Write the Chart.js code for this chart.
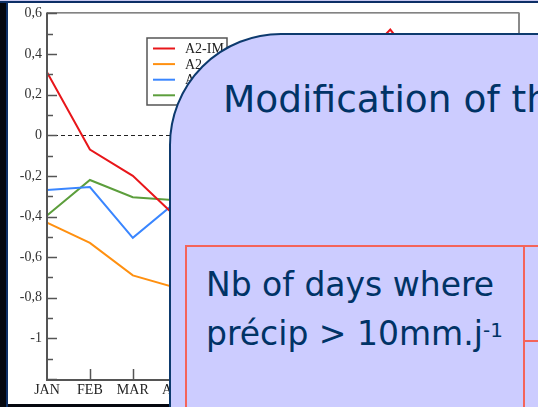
<!DOCTYPE html>
<html>
<head>
<meta charset="utf-8">
<script src="https://cdn.jsdelivr.net/npm/chart.js@4/dist/chart.umd.min.js"></script>
<style>
  html, body { margin: 0; padding: 0; }
  body { width: 538px; height: 407px; overflow: hidden; position: relative; background: #05070f; }
  #topband { position: absolute; left: 0; top: 0; width: 538px; height: 1px; background: #c8c8f0; }
  #topline { position: absolute; left: 0; top: 1px; width: 538px; height: 2px; background: #0d2f66; }
  #leftedge { position: absolute; left: 6px; top: 3px; width: 2px; height: 404px; background: #0d2f66; }
  #panel { position: absolute; left: 8px; top: 3px; width: 530px; height: 401px; background: #fff; }
  #chart { position: absolute; left: 0; top: 0; }
  #overlay {
    position: absolute; left: 169px; top: 33px; width: 420px; height: 420px;
    background: #ccccff; border: 2px solid #0d3a6e; border-top-left-radius: 112px;
  }
  .cell { position: absolute; border-color: #f4645a; border-style: solid; border-width: 0; }
  #cellA { left: 185px; top: 245px; width: 420px; height: 300px; border-top-width: 2px; border-left-width: 2px; }
  #cellB { left: 523px; top: 247px; width: 2px; height: 200px; background: #f4645a; }
  #cellC { left: 525px; top: 340px; width: 30px; height: 2px; background: #f4645a; }
  .slide { position: absolute; font-family: "DejaVu Sans", sans-serif; color: #003366; white-space: nowrap; }
  #title { left: 223px; top: 81px; font-size: 37.5px; line-height: 37px; }
  #body { left: 206px; top: 260px; font-size: 33px; line-height: 49px; }
  #body sup { font-size: 20px; vertical-align: 8px; line-height: 0; }
</style>
</head>
<body>
<div id="topband"></div>
<div id="topline"></div>
<div id="leftedge"></div>
<div id="panel"></div>
<canvas id="chart" width="538" height="407"></canvas>
<div id="overlay"></div>
<div class="cell" id="cellA"></div>
<div class="cell" id="cellB"></div>
<div class="cell" id="cellC"></div>
<div class="slide" id="title">Modification of the</div>
<div class="slide" id="body">Nb of days where<br>précip &gt; 10mm.j<sup>-1</sup></div>

<script>
// months on the x axis
const months = ['JAN', 'FEB', 'MAR', 'APR', 'MAY', 'JUN', 'JUL', 'AUG', 'SEP', 'OCT', 'NOV', 'DEC'];
const seriesNames = ['A2-IM', 'A2', 'A2-R', 'A2-IMR'];
// values (May..Dec mostly hidden, estimated)
const a2imValues = [0.31, -0.07, -0.2, -0.4, -0.15, 0.05, 0.2, 0.3, 0.52, 0.25, 0.1, 0.2];
const a2Values = [-0.43, -0.53, -0.69, -0.75, -0.6, -0.45, -0.35, -0.3, -0.2, -0.35, -0.4, -0.45];
const a2rValues = [-0.27, -0.255, -0.505, -0.33, -0.3, -0.2, -0.1, -0.15, -0.05, -0.2, -0.25, -0.3];
const a2imrValues = [-0.395, -0.22, -0.305, -0.32, -0.25, -0.15, -0.05, 0.0, 0.1, -0.1, -0.15, -0.2];
const yTickValues = [0.6, 0.4, 0.2, 0, -0.2, -0.4, -0.6, -0.8, -1];
const seriesColors = ['#e8161a', '#ff9010', '#3a86ff', '#5c9e3c'];

const serif = 'Liberation Serif';

// frame, inward ticks and dashed zero line like the xmgrace original
const framePlugin = {
  id: 'frame',
  beforeDatasetsDraw(chart) {
    const { ctx, chartArea: a, scales: { y } } = chart;
    const y0 = Math.round(y.getPixelForValue(0)) + 0.5;
    ctx.save();
    ctx.setLineDash([4, 3]);
    ctx.strokeStyle = '#222';
    ctx.lineWidth = 1;
    ctx.beginPath();
    ctx.moveTo(a.left, y0);
    ctx.lineTo(a.right, y0);
    ctx.stroke();
    ctx.restore();
  },
  afterDatasetsDraw(chart) {
    const { ctx, chartArea: a, scales: { x, y } } = chart;
    ctx.save();
    // top and right
    ctx.strokeStyle = '#333';
    ctx.lineWidth = 1;
    ctx.beginPath();
    ctx.moveTo(a.left, a.top - 0.5);
    ctx.lineTo(a.right, a.top - 0.5);
    ctx.stroke();
    ctx.strokeStyle = '#8a8a8a';
    ctx.lineWidth = 2;
    ctx.beginPath();
    ctx.moveTo(a.right, a.top - 1);
    ctx.lineTo(a.right, a.bottom);
    ctx.stroke();
    // left and bottom axes
    ctx.strokeStyle = '#555';
    ctx.lineWidth = 2;
    ctx.beginPath();
    ctx.moveTo(a.left, a.top - 1);
    ctx.lineTo(a.left, a.bottom + 1);
    ctx.lineTo(a.right, a.bottom + 1);
    ctx.stroke();
    // y ticks, major every 0.2, minor every 0.1
    ctx.lineWidth = 1.5;
    for (let i = 0; i <= 18; i++) {
      const v = -1.2 + i * 0.1;
      const py = Math.round(y.getPixelForValue(v)) + 0.5;
      const len = i % 2 === 0 ? 10 : 6;
      ctx.beginPath();
      ctx.moveTo(a.left, py);
      ctx.lineTo(a.left + len, py);
      ctx.stroke();
    }
    // x ticks
    for (let i = 1; i < months.length - 1; i++) {
      const px = Math.round(x.getPixelForValue(i)) + 0.5;
      ctx.beginPath();
      ctx.moveTo(px, a.bottom);
      ctx.lineTo(px, a.bottom - 10);
      ctx.stroke();
    }
    ctx.restore();
  }
};

// boxed legend inside the plot
const boxLegend = {
  id: 'boxLegend',
  afterDatasetsDraw(chart) {
    const { ctx } = chart;
    const bx = 147, by = 38, bw = 80, bh = 67;
    ctx.save();
    ctx.fillStyle = '#fff';
    ctx.fillRect(bx, by, bw, bh);
    ctx.strokeStyle = '#555';
    ctx.lineWidth = 1.5;
    ctx.strokeRect(bx, by, bw, bh);
    ctx.font = '14px "' + serif + '"';
    ctx.textBaseline = 'middle';
    chart.data.datasets.forEach((ds, i) => {
      const ly = by + 10.5 + i * 15.6;
      ctx.strokeStyle = ds.borderColor;
      ctx.lineWidth = 2;
      ctx.beginPath();
      ctx.moveTo(bx + 6, ly);
      ctx.lineTo(bx + 28, ly);
      ctx.stroke();
      ctx.fillStyle = '#222';
      ctx.fillText(ds.label, bx + 38, ly + 1);
    });
    ctx.restore();
  }
};

const allValues = [a2imValues, a2Values, a2rValues, a2imrValues];

new Chart(document.getElementById('chart').getContext('2d'), {
  type: 'line',
  data: {
    labels: months,
    datasets: seriesNames.map((name, i) => ({
      label: name,
      data: allValues[i],
      borderColor: seriesColors[i],
      borderWidth: 2,
      pointRadius: 0,
      tension: 0,
      fill: false
    }))
  },
  options: {
    responsive: false,
    animation: false,
    devicePixelRatio: 1,
    layout: { padding: { top: 13, right: 19, left: 0, bottom: 0 } },
    plugins: {
      legend: { display: false },
      tooltip: { enabled: false }
    },
    scales: {
      x: {
        offset: false,
        grid: { display: false, drawTicks: false, tickLength: 0 },
        border: { display: false },
        ticks: {
          color: '#222',
          font: { family: serif, size: 14 },
          padding: 3,
          maxRotation: 0,
          autoSkip: false
        },
        afterFit: s => { s.height = 28; }
      },
      y: {
        min: -1.2,
        max: 0.6,
        grid: { display: false, drawTicks: false, tickLength: 0 },
        border: { display: false },
        afterBuildTicks: s => { s.ticks = yTickValues.map(v => ({ value: v })); },
        ticks: {
          color: '#333',
          font: { family: serif, size: 14 },
          padding: 5,
          callback: v => String(v).replace('.', ',')
        },
        afterFit: s => { s.width = 47; }
      }
    }
  },
  plugins: [framePlugin, boxLegend]
});
</script>
</body>
</html>
